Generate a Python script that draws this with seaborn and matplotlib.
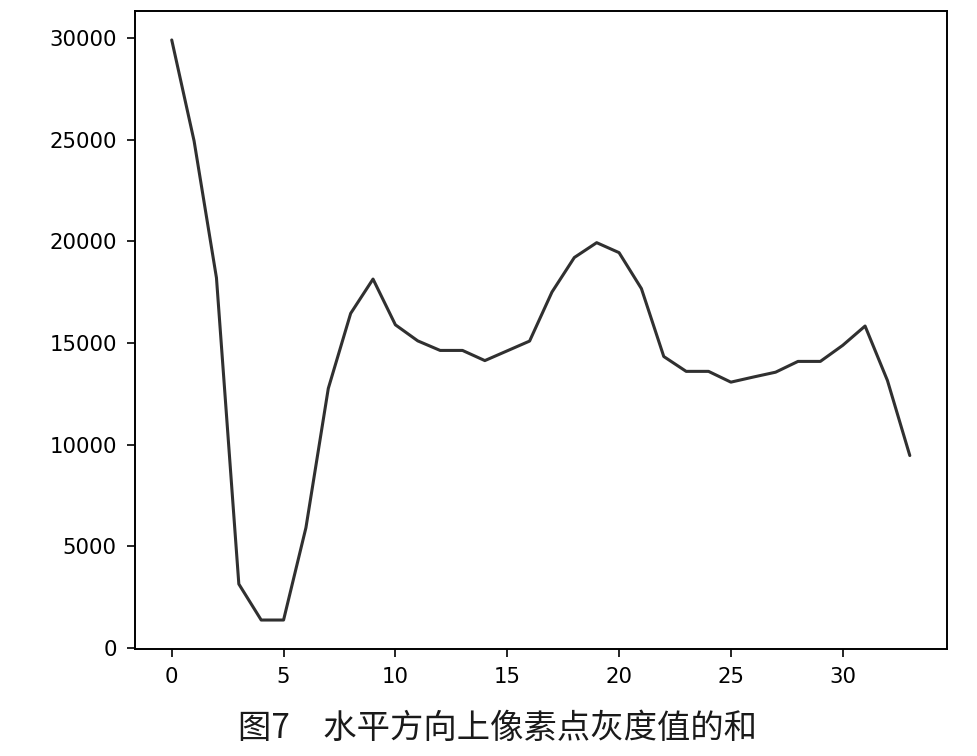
import numpy as np
import pandas as pd
import matplotlib
matplotlib.use('Agg')
import matplotlib.pyplot as plt
import seaborn as sns

# ── Data ─────────────────────────────────────────────────────────────────────
row_index = list(range(34))
gray_sum = [29900, 24930, 18200, 3140, 1370, 1370, 5910, 12760, 16450, 18140,
            15890, 15100, 14630, 14630, 14130, 14610, 15090, 17500, 19200, 19930,
            19440, 17670, 14330, 13600, 13600, 13070, 13320, 13560, 14090, 14090,
            14880, 15830, 13150, 9460]
caption = '图7　水平方向上像素点灰度值的和'

# ── Style ────────────────────────────────────────────────────────────────────
sns.set_theme(style='ticks')
plt.rcParams['font.family'] = ['DejaVu Sans', 'Noto Sans CJK SC']
plt.rcParams.update({
    'axes.edgecolor': 'black',
    'axes.linewidth': 1.4,
    'xtick.color': 'black',
    'ytick.color': 'black',
    'xtick.major.size': 5.5,
    'ytick.major.size': 5.5,
    'xtick.major.width': 1.2,
    'ytick.major.width': 1.2,
    'xtick.major.pad': 7.5,
    'ytick.major.pad': 7.5,
})

df = pd.DataFrame({'row': row_index, 'sum': gray_sum})

fig = plt.figure(figsize=(9.77, 7.56), dpi=100)
ax = fig.add_axes([0.138, 0.1415, 0.831, 0.844])
sns.lineplot(data=df, x='row', y='sum', ax=ax, color='#303030', linewidth=2.2)

ax.set_xticks(np.arange(0, 31, 5))
ax.set_yticks(np.arange(0, 30001, 5000))
ax.tick_params(labelsize=15.3)
ax.set_xlabel('')
ax.set_ylabel('')
for s in ['top', 'right']:
    ax.spines[s].set_visible(True)

fig.text(0.509, 0.036, caption, ha='center', va='center', fontsize=24,
         family=['Noto Sans CJK SC', 'DejaVu Sans'], color='#1a1a1a')

fig.savefig('out.png', dpi=100, facecolor='white')
plt.close()
